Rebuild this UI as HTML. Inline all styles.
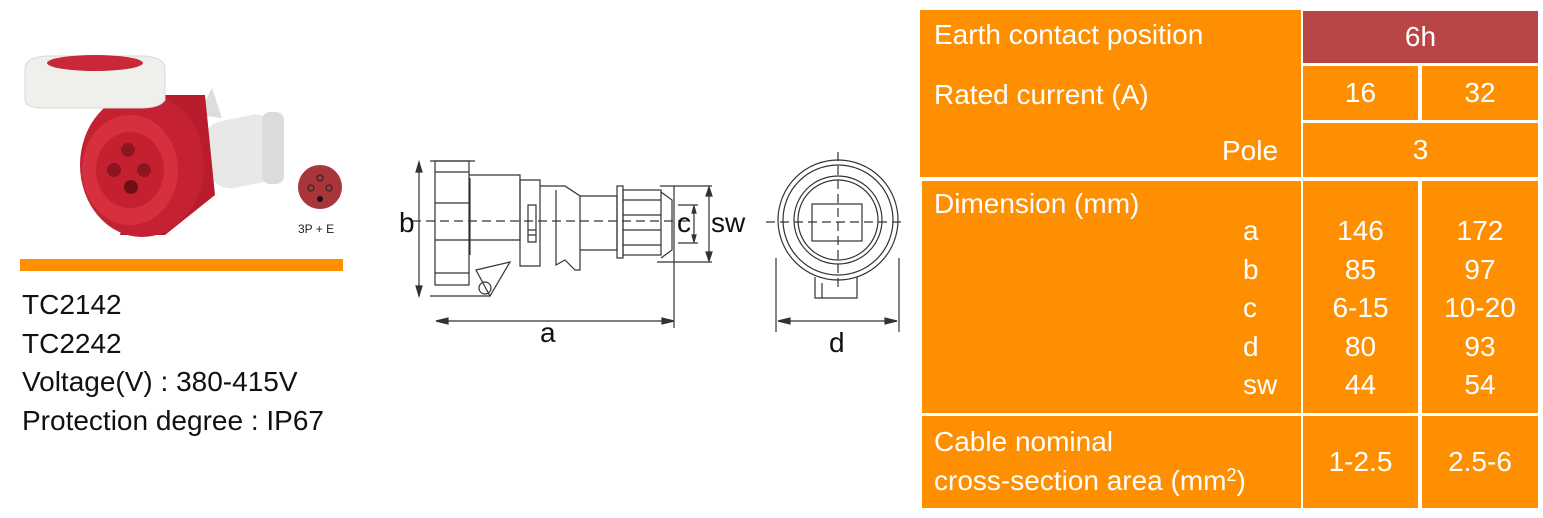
<!DOCTYPE html>
<html><head><meta charset="utf-8"><style>
body{margin:0;width:1543px;height:518px;background:#fff;position:relative;overflow:hidden;font-family:"Liberation Sans",sans-serif}
.c{position:absolute;background:#fd8f00;color:#fff;font-size:28px;box-sizing:border-box}
.t{position:absolute;color:#fff;font-size:28px;white-space:nowrap}
.ctr{display:flex;align-items:center;justify-content:center}
.l{position:absolute;left:22px;font-size:28px;color:#111;white-space:nowrap}
</style></head><body>
<!-- product -->
<svg style="position:absolute;left:0;top:0" width="360" height="280">
<rect x="205" y="118" width="75" height="68" rx="22" fill="#e8e8e6" transform="rotate(-12 240 150)"/>
<rect x="262" y="112" width="22" height="72" rx="8" fill="#dcdcda"/>
<path d="M198,115 L212,88 L222,118Z" fill="#ddd"/>
<path d="M150,95 L205,95 L215,195 L165,235 L120,235Z" fill="#b81c2d"/>
<ellipse cx="142" cy="165" rx="62" ry="72" fill="#c42132"/>
<ellipse cx="130" cy="170" rx="48" ry="55" fill="#d6303e"/>
<ellipse cx="130" cy="170" rx="34" ry="38" fill="#c5202f"/>
<circle cx="128" cy="150" r="7" fill="#8c1520"/><circle cx="114" cy="170" r="7" fill="#8c1520"/><circle cx="144" cy="170" r="7" fill="#8c1520"/><circle cx="131" cy="187" r="7" fill="#6f1019"/>
<path d="M25,68 Q25,58 45,56 L145,56 Q165,58 165,68 L165,100 Q160,108 140,108 L45,108 Q25,108 25,100Z" fill="#efefec" stroke="#d9d9d6"/>
<ellipse cx="95" cy="63" rx="48" ry="8" fill="#c8283a"/>
<circle cx="320" cy="187" r="22" fill="#a8353a"/>
<circle cx="320" cy="178" r="3" fill="none" stroke="#222"/><circle cx="311" cy="188" r="3" fill="none" stroke="#222"/><circle cx="329" cy="188" r="3" fill="none" stroke="#222"/><circle cx="320" cy="199" r="3" fill="#111"/>
<text x="298" y="233" font-size="12" fill="#222" font-family="Liberation Sans">3P + E</text>
<rect x="20" y="259" width="323" height="12" fill="#fd8f00"/>
</svg>
<div class="l" style="top:289px">TC2142</div>
<div class="l" style="top:328px">TC2242</div>
<div class="l" style="top:366px">Voltage(V) : 380-415V</div>
<div class="l" style="top:405px">Protection degree : IP67</div>
<!-- drawing -->
<svg style="position:absolute;left:0;top:0" width="920" height="360" fill="none" stroke="#333" stroke-width="1.2" font-family="Liberation Sans">
<path d="M430,161 L475,161 M430,296 L490,296"/>
<path d="M419,162 V296" /><path d="M419,162 l-3,10 h6z M419,296 l-3,-10 h6z" fill="#333"/>
<rect x="435" y="161" width="34" height="124"/><path d="M435,172 H469 M435,203 H469 M435,240 H469 M435,273 H469"/>
<path d="M469,175 H520 V240 H469 M470,178 V255"/>
<path d="M520,180 L540,180 L540,266 L520,266Z M528,205 h8 v30 h-8z M528,230 h8 v12 h-8z"/>
<path d="M540,186 H565 L580,196 V270 L575,270 L565,260 L556,265 L556,190"/>
<path d="M580,196 H617 V250 H580"/><rect x="617" y="186" width="6" height="72"/>
<rect x="623" y="190" width="38" height="65"/><path d="M623,200 H661 M623,215 H661 M623,230 H661 M623,245 H661"/>
<path d="M661,192 L672,200 V250 L661,258"/>
<path d="M476,270 L510,262 L490,296 Z"/><circle cx="485" cy="288" r="6"/>
<path d="M412,221 H690" stroke-dasharray="9,5"/>
<path d="M660,186 H712 M657,262 H712 M678,205 H698 M678,243 H698"/>
<path d="M709,187 V261 M694,206 V242" /><path d="M709,187 l-3,9 h6z M709,261 l-3,-9 h6z M694,206 l-2,7 h4z M694,242 l-2,-7 h4z" fill="#333"/>
<path d="M674,186 V328"/><path d="M436,321 H674"/><path d="M436,321 l12,-3 v6z M674,321 l-12,-3 v6z" fill="#333"/>
<circle cx="838" cy="220" r="60"/><circle cx="838" cy="220" r="55"/><circle cx="838" cy="220" r="44"/><circle cx="838" cy="220" r="40"/>
<rect x="812" y="204" width="50" height="37"/>
<path d="M766,222 H906 M838,152 V292" stroke-dasharray="9,5"/>
<path d="M815,277 V298 H857 V277 M822,283 V298"/>
<path d="M776,258 V332 M899,258 V332 M778,321 H897"/><path d="M778,321 l12,-3 v6z M897,321 l-12,-3 v6z" fill="#333"/>
<g stroke="none" fill="#111" font-size="28"><text x="399" y="232">b</text><text x="677" y="232">c</text><text x="711" y="232">sw</text><text x="540" y="342">a</text><text x="829" y="352">d</text></g>
</svg>
<!-- table -->
<div class="c" style="left:920px;top:10px;width:381px;height:167px"></div>
<div class="t" style="left:934px;top:19px">Earth contact position</div>
<div class="t" style="left:934px;top:79px">Rated current (A)</div>
<div class="t" style="left:1222px;top:135px">Pole</div>
<div class="c ctr" style="left:1303px;top:11px;width:235px;height:52px;background:#b94547">6h</div>
<div class="c ctr" style="left:1303px;top:66px;width:115px;height:54px">16</div>
<div class="c ctr" style="left:1422px;top:66px;width:116px;height:54px">32</div>
<div class="c ctr" style="left:1303px;top:123px;width:235px;height:54px">3</div>
<div class="c" style="left:922px;top:181px;width:379px;height:232px"></div>
<div class="t" style="left:934px;top:188px">Dimension (mm)</div>
<div class="t" style="left:1243px;top:212px;line-height:38.5px">a<br>b<br>c<br>d<br>sw</div>
<div class="c" style="left:1303px;top:181px;width:115px;height:232px"></div>
<div class="c" style="left:1422px;top:181px;width:116px;height:232px"></div>
<div class="t" style="left:1303px;width:115px;text-align:center;top:212px;line-height:38.5px">146<br>85<br>6-15<br>80<br>44</div>
<div class="t" style="left:1422px;width:116px;text-align:center;top:212px;line-height:38.5px">172<br>97<br>10-20<br>93<br>54</div>
<div class="c" style="left:922px;top:416px;width:379px;height:92px"></div>
<div class="t" style="left:934px;top:422px;line-height:39px">Cable nominal<br>cross-section area (mm<span style="font-size:18px;position:relative;top:-9px;line-height:0">2</span>)</div>
<div class="c ctr" style="left:1303px;top:416px;width:115px;height:92px">1-2.5</div>
<div class="c ctr" style="left:1422px;top:416px;width:116px;height:92px">2.5-6</div>
</body></html>
